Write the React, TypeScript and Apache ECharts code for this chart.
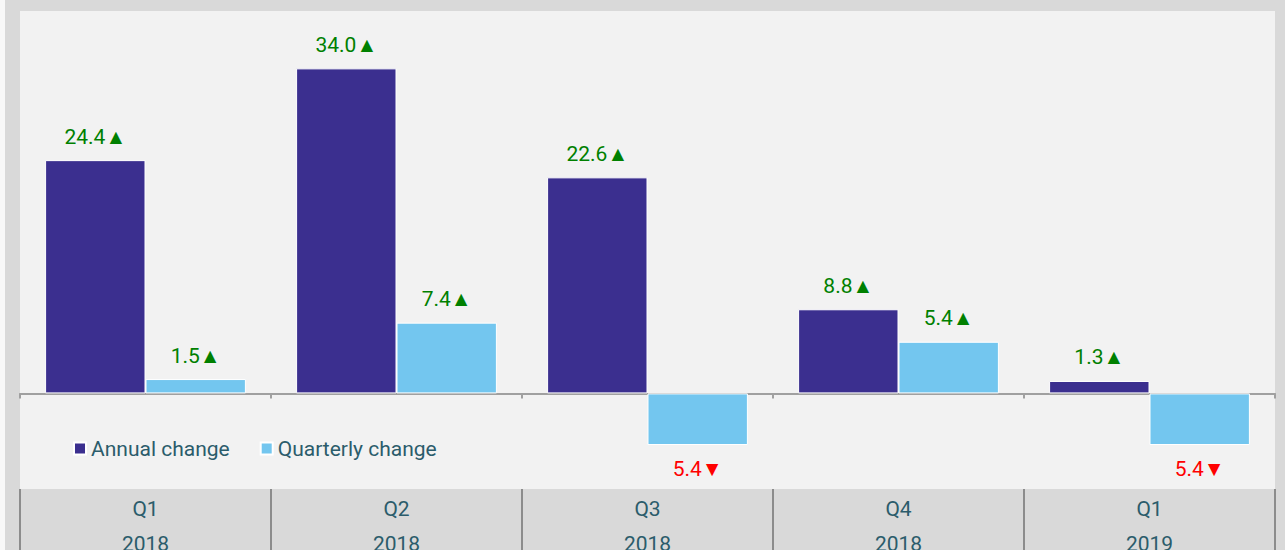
import React, { useEffect, useRef } from "react";
import * as echarts from "echarts";

const categories = ["Q1\n2018", "Q2\n2018", "Q3\n2018", "Q4\n2018", "Q1\n2019"];
const annualChange = [24.4, 34.0, 22.6, 8.8, 1.3];
const quarterlyChange = [1.5, 7.4, -5.4, 5.4, -5.4];
const seriesNames = ["Annual change", "Quarterly change"];

const FONT = "Roboto, 'Noto Sans', sans-serif";
const TEXT_COLOR = "#2b5c6b";

function toData(values: number[]) {
  return values.map((v) => ({
    value: v,
    label: {
      show: true,
      position: v >= 0 ? "top" : "bottom",
      distance: 13,
      color: v >= 0 ? "#008000" : "#ff0000",
      fontSize: 21,
      fontFamily: FONT,
      formatter: () => `${Math.abs(v).toFixed(1)}${v >= 0 ? "▲" : "▼"}`,
    },
  }));
}

export default function App() {
  const ref = useRef<HTMLDivElement>(null);
  useEffect(() => {
    if (!ref.current) return;
    const chart = echarts.init(ref.current, null, { renderer: "svg" });
    chart.setOption({
      animation: false,
      backgroundColor: "#d9d9d9",
      textStyle: { fontFamily: FONT },
      graphic: [
        { type: "rect", shape: { x: 0, y: 0, width: 5, height: 550 }, style: { fill: "#f8f8f8" }, z: -1 },
      ],
      grid: {
        left: 20,
        right: 10,
        top: 11,
        bottom: 61,
        show: true,
        backgroundColor: "#f2f2f2",
        borderWidth: 0,
        containLabel: false,
        outerBoundsMode: "none",
      },
      legend: {
        data: seriesNames,
        left: 73,
        top: 438,
        padding: 0,
        icon: "rect",
        itemWidth: 12,
        itemHeight: 12,
        itemGap: 30,
        textStyle: { color: TEXT_COLOR, fontSize: 21, fontFamily: FONT },
      },
      xAxis: [
        {
          type: "category",
          data: categories,
          axisLine: { onZero: true, lineStyle: { color: "#a0a0a0", width: 2 } },
          axisTick: { show: true, length: 5, lineStyle: { color: "#a0a0a0", width: 2 } },
          axisLabel: { show: false },
          splitLine: { show: false },
        },
        {
          type: "category",
          data: categories,
          position: "bottom",
          axisLine: { show: false, onZero: false },
          axisTick: { show: true, length: 61, lineStyle: { color: "#8c8c8c", width: 2 } },
          axisLabel: {
            show: true,
            color: TEXT_COLOR,
            fontSize: 21,
            fontFamily: FONT,
            lineHeight: 35,
            margin: 2,
          },
          splitLine: { show: false },
        },
      ],
      yAxis: {
        type: "value",
        min: -10,
        max: 40,
        show: false,
        splitLine: { show: false },
      },
      series: [
        {
          name: seriesNames[0],
          type: "bar",
          xAxisIndex: 0,
          data: toData(annualChange),
          barGap: "0%",
          barCategoryGap: "20%",
          itemStyle: { color: "#3b2f8f", borderColor: "#ffffff", borderWidth: 1 },
        },
        {
          name: seriesNames[1],
          type: "bar",
          xAxisIndex: 0,
          data: toData(quarterlyChange),
          barGap: "0%",
          barCategoryGap: "20%",
          itemStyle: { color: "#73c6ef", borderColor: "#ffffff", borderWidth: 1 },
        },
      ],
    });
    return () => chart.dispose();
  }, []);
  return (
    <div
      ref={ref}
      style={{ position: "fixed", left: 0, top: 0, width: 1285, height: 550 }}
    />
  );
}
